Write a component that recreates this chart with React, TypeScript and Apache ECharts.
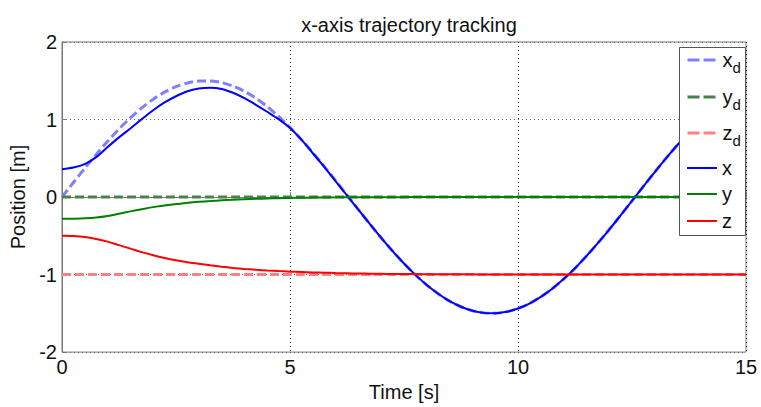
import React, { useEffect, useRef } from "react";
import * as echarts from "echarts";

// Time samples [s], every 0.25 s
const time = [
  0, 0.25, 0.5, 0.75, 1, 1.25, 1.5, 1.75, 2, 2.25, 2.5, 2.75, 3, 3.25, 3.5, 3.75, 4, 4.25, 4.5, 4.75,
  5, 5.25, 5.5, 5.75, 6, 6.25, 6.5, 6.75, 7, 7.25, 7.5, 7.75, 8, 8.25, 8.5, 8.75, 9, 9.25, 9.5, 9.75,
  10, 10.25, 10.5, 10.75, 11, 11.25, 11.5, 11.75, 12, 12.25, 12.5, 12.75, 13, 13.25, 13.5, 13.75, 14, 14.25, 14.5, 14.75, 15,
];

// Desired trajectories
const xdValues = [
  0, 0.187, 0.371, 0.549, 0.719, 0.878, 1.022, 1.151, 1.262, 1.353, 1.424, 1.471, 1.496, 1.498, 1.476, 1.431, 1.364, 1.276, 1.167, 1.041,
  0.898, 0.740, 0.573, 0.396, 0.212, 0.025, -0.162, -0.347, -0.526, -0.697, -0.857, -1.004, -1.135, -1.248, -1.343, -1.415, -1.466, -1.494, -1.499, -1.480,
  -1.438, -1.374, -1.288, -1.183, -1.058, -0.918, -0.762, -0.595, -0.419, -0.237, -0.050, 0.137, 0.323, 0.503, 0.675, 0.837, 0.985, 1.119, 1.235, 1.331, 1.407,
];
const ydValues = [
  0, 0, 0, 0, 0, 0, 0, 0, 0, 0, 0, 0, 0, 0, 0, 0, 0, 0, 0, 0,
  0, 0, 0, 0, 0, 0, 0, 0, 0, 0, 0, 0, 0, 0, 0, 0, 0, 0, 0, 0,
  0, 0, 0, 0, 0, 0, 0, 0, 0, 0, 0, 0, 0, 0, 0, 0, 0, 0, 0, 0, 0,
];
const zdValues = [
  -1, -1, -1, -1, -1, -1, -1, -1, -1, -1, -1, -1, -1, -1, -1, -1, -1, -1, -1, -1,
  -1, -1, -1, -1, -1, -1, -1, -1, -1, -1, -1, -1, -1, -1, -1, -1, -1, -1, -1, -1,
  -1, -1, -1, -1, -1, -1, -1, -1, -1, -1, -1, -1, -1, -1, -1, -1, -1, -1, -1, -1, -1,
];

// Actual trajectories
const xValues = [
  0.36, 0.38, 0.425, 0.515, 0.645, 0.77, 0.885, 1.005, 1.12, 1.22, 1.30, 1.365, 1.40, 1.41, 1.395, 1.345, 1.275, 1.19, 1.10, 1.005,
  0.89, 0.74, 0.565, 0.39, 0.205, 0.02, -0.162, -0.347, -0.526, -0.697, -0.857, -1.004, -1.135, -1.248, -1.343, -1.415, -1.466, -1.494, -1.499, -1.480,
  -1.438, -1.374, -1.288, -1.183, -1.058, -0.918, -0.762, -0.595, -0.419, -0.237, -0.050, 0.137, 0.323, 0.503, 0.675, 0.837, 0.985, 1.119, 1.235, 1.331, 1.407,
];
const yValues = [
  -0.28, -0.28, -0.275, -0.265, -0.245, -0.215, -0.185, -0.157, -0.13, -0.11, -0.09, -0.075, -0.062, -0.052, -0.042, -0.035, -0.028, -0.023, -0.018, -0.014,
  -0.011, -0.009, -0.007, -0.005, -0.004, -0.003, -0.003, -0.002, -0.002, -0.001, -0.001, 0, 0, 0, 0, 0, 0, 0, 0, 0,
  0, 0, 0, 0, 0, 0, 0, 0, 0, 0, 0, 0, 0, 0, 0, 0, 0, 0, 0, 0, 0,
];
const zValues = [
  -0.5, -0.503, -0.515, -0.54, -0.575, -0.62, -0.665, -0.71, -0.75, -0.785, -0.815, -0.84, -0.86, -0.88, -0.898, -0.914, -0.927, -0.938, -0.947, -0.955,
  -0.962, -0.967, -0.972, -0.976, -0.98, -0.983, -0.986, -0.988, -0.99, -0.992, -0.993, -0.994, -0.995, -0.996, -0.996, -0.997, -0.997, -0.998, -0.998, -0.998,
  -0.998, -0.999, -0.999, -0.999, -0.999, -0.999, -0.999, -0.999, -1, -1, -1, -1, -1, -1, -1, -1, -1, -1, -1, -1, -1,
];

// Axis ticks
const xTicks = [0, 5, 10, 15];
const yTicks = [-2, -1, 0, 1, 2];

// Legend entries
const legendNames = ["xd", "yd", "zd", "x", "y", "z"];
const legendTops = [50, 87, 123, 158, 184, 211];

const FONT = "'Liberation Sans', Arial, Helvetica, sans-serif";
const COLORS: Record<string, string> = {
  xd: "#8080ff",
  yd: "#4a804a",
  zd: "#ff8080",
  x: "#0000ff",
  y: "#008000",
  z: "#ff0000",
};

const pairs = (vals: number[]) => vals.map((v, i) => [time[i], v]);

export default function App() {
  const ref = useRef<HTMLDivElement>(null);

  useEffect(() => {
    if (!ref.current) return;
    const chart = echarts.init(ref.current, null, { renderer: "svg" });

    const mk = (name: string, vals: number[], dashed: boolean) => ({
      name,
      type: "line",
      data: pairs(vals),
      symbol: "none",
      showSymbol: false,
      smooth: 0.3,
      lineStyle: {
        color: COLORS[name],
        width: dashed ? 3 : 2,
        type: dashed ? [9, 4] : "solid",
      },
      itemStyle: { color: COLORS[name] },
      z: dashed ? 2 : 3,
    });

    const legends = legendNames.map((name, i) => {
      const dashed = name.length === 2;
      return {
        orient: "vertical",
        left: 686,
        top: legendTops[i],
        padding: 0,
        itemWidth: 30,
        itemHeight: 14,
        z: 5,
        data: [
          {
            name,
            itemStyle: { opacity: 0 },
            lineStyle: {
              color: COLORS[name],
              width: dashed ? 3 : 2,
              type: dashed ? [12, 4] : "solid",
              opacity: 1,
            },
          },
        ],
        formatter: (n: string) =>
          n.length === 2 ? `{m|${n[0]}}{s|${n[1]}}` : `{p|${n}}`,
        textStyle: {
          fontFamily: FONT,
          fontSize: 20,
          color: "#111",
          rich: {
            m: { fontFamily: FONT, fontSize: 20, lineHeight: 30, color: "#111" },
            s: { fontFamily: FONT, fontSize: 15, lineHeight: 15, verticalAlign: "bottom", color: "#111" },
            p: { fontFamily: FONT, fontSize: 20, lineHeight: 20, color: "#111" },
          },
        },
      };
    });

    chart.setOption({
      animation: false,
      backgroundColor: "#ffffff",
      textStyle: { fontFamily: FONT },
      title: {
        text: "x-axis trajectory tracking",
        left: 404,
        textAlign: "center",
        top: 10,
        textStyle: { fontFamily: FONT, fontSize: 20, fontWeight: "normal", color: "#111" },
      },
      grid: {
        left: 62,
        right: 15,
        top: 42,
        bottom: 53,
        show: true,
        borderColor: "#777",
        borderWidth: 1,
        backgroundColor: "#ffffff",
      },
      graphic: [
        {
          type: "rect",
          z: 4,
          shape: { x: 679.5, y: 47.5, width: 66, height: 188 },
          style: { fill: "#ffffff", stroke: "#555", lineWidth: 1 },
        },
      ],
      legend: legends,
      xAxis: {
        type: "value",
        min: xTicks[0],
        max: xTicks[xTicks.length - 1],
        interval: xTicks[1] - xTicks[0],
        name: "Time [s]",
        nameLocation: "middle",
        nameGap: 26,
        nameTextStyle: { fontFamily: FONT, fontSize: 20, color: "#111" },
        axisLine: { show: true, lineStyle: { color: "#777", width: 1 } },
        axisTick: { show: true, inside: true, length: 5, lineStyle: { color: "#777" } },
        axisLabel: { fontFamily: FONT, fontSize: 20, color: "#111", margin: 5 },
        splitLine: {
          show: true,
          lineStyle: { color: "#333", width: 1, type: [1, 3] },
        },
      },
      yAxis: {
        type: "value",
        min: yTicks[0],
        max: yTicks[yTicks.length - 1],
        interval: yTicks[1] - yTicks[0],
        name: "Position [m]",
        nameLocation: "middle",
        nameGap: 30,
        nameTextStyle: { fontFamily: FONT, fontSize: 20, color: "#111" },
        axisLine: { show: true, lineStyle: { color: "#777", width: 1 } },
        axisTick: { show: true, inside: true, length: 5, lineStyle: { color: "#777" } },
        axisLabel: { fontFamily: FONT, fontSize: 20, color: "#111", margin: 5 },
        splitLine: {
          show: true,
          lineStyle: { color: "#666", width: 1, type: [1, 3] },
        },
      },
      series: [
        mk("xd", xdValues, true),
        mk("yd", ydValues, true),
        mk("zd", zdValues, true),
        mk("x", xValues, false),
        mk("y", yValues, false),
        mk("z", zValues, false),
      ],
    });

    return () => chart.dispose();
  }, []);

  return (
    <div
      ref={ref}
      style={{ position: "absolute", left: 0, top: 0, width: 761, height: 407 }}
    />
  );
}
